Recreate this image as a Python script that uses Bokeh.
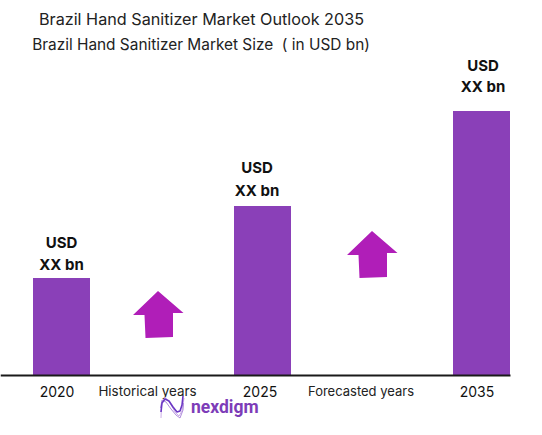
from bokeh.plotting import figure
from bokeh.models import Range1d, FixedTicker
from bokeh.core.properties import value
from bokeh.embed import file_html
from bokeh.resources import INLINE

years = ["2020", "2025", "2035"]
bar_centers = [61.5, 262.5, 481.5]
bar_values = [97, 169, 264]
tick_centers = [57, 260, 477]
usd_labels = ["USD", "USD", "USD"]
value_labels = ["XX bn", "XX bn", "XX bn"]
title_text = "Brazil Hand Sanitizer Market Outlook 2035"
subtitle_text = "Brazil Hand Sanitizer Market Size \u00a0( in USD bn)"

W, H = 542, 435
BASE = 375
INTER = "Inter, sans-serif"


def Y(py):
    return BASE - py


p = figure(width=W, height=H, output_backend="svg", toolbar_location=None,
           x_range=Range1d(0.5, W + 0.5), y_range=Range1d(BASE - H - 0.5, BASE - 0.5),
           min_border=0, outline_line_color=None)
p.grid.visible = False
p.yaxis.visible = False

ax = p.xaxis[0]
ax.fixed_location = 0
ax.bounds = (0.5, 510)
ax.ticker = FixedTicker(ticks=tick_centers)
ax.major_label_overrides = dict(zip(tick_centers, years))
ax.major_tick_line_color = None
ax.minor_tick_line_color = None
ax.axis_line_color = "#1a1a1a"
ax.axis_line_width = 2
ax.major_label_standoff = 5
ax.major_label_text_font = INTER
ax.major_label_text_font_size = "14px"
ax.major_label_text_color = "#111111"

p.vbar(x=bar_centers, top=bar_values, bottom=0, width=57,
       fill_color="#8A40B8", line_color=None)


def arrow(cx, tip):
    xs = [cx, cx + 25.5, cx + 15, cx + 15, cx - 12.5, cx - 13.5, cx - 25]
    ys = [tip, tip + 22, tip + 22, tip + 46, tip + 47, tip + 24, tip + 24]
    return xs, [Y(v) for v in ys]


for cx, tip in [(158, 291), (372, 231)]:
    xs, ys = arrow(cx, tip)
    p.patch(xs, ys, fill_color="#B01EB8", line_color=None)

p.text(x=[61.5, 257, 483], y=[Y(242), Y(167.5), Y(65.5)], text=usd_labels,
       text_align="center", text_baseline="middle", text_font=value(INTER),
       text_font_size="15px", text_font_style="bold", text_color="#111111")
p.text(x=[61.5, 257, 483], y=[Y(264.5), Y(190.5), Y(86)], text=value_labels,
       text_align="center", text_baseline="middle", text_font=value(INTER),
       text_font_size="15px", text_font_style="bold", text_color="#111111")

p.text(x=[147.5], y=[Y(390.5)], text=["Historical years"],
       text_align="center", text_baseline="middle", text_font=value(INTER),
       text_font_size="13.4px", text_color="#222222")
p.text(x=[361], y=[Y(390.5)], text=["Forecasted years"],
       text_align="center", text_baseline="middle", text_font=value(INTER),
       text_font_size="13px", text_color="#222222")

p.text(x=[201.5], y=[Y(19)], text=[title_text], text_align="center", text_baseline="middle",
       text_font=value(INTER), text_font_size="16.2px", text_color="#222222")
p.text(x=[201], y=[Y(44)], text=[subtitle_text], text_align="center", text_baseline="middle",
       text_font=value(INTER), text_font_size="15.4px", text_color="#222222")

# logo
sx = [161, 162, 165, 169, 173, 177, 180, 182, 183]
sy = [412, 403, 399, 401, 407, 412, 411, 405, 396]
sx2 = [161, 161.5, 165, 170, 175, 179, 182, 184]
sy2 = [418, 404, 397, 403, 412, 416, 411, 398]
sx3 = [160.5, 162, 166, 171, 176, 180, 183, 183.5]
sy3 = [408, 400, 402, 409, 415, 418, 410, 403]
p.line(sx2, [Y(v) for v in sy2], line_color="#CDB0E8", line_width=1)
p.line(sx3, [Y(v) for v in sy3], line_color="#B08CDC", line_width=1)
p.line(sx, [Y(v) for v in sy], line_color="#6B36C4", line_width=1.6)
p.text(x=[191], y=[Y(406.5)], text=["nexdigm"], text_align="left", text_baseline="middle",
       text_font=value("Roboto, sans-serif"), text_font_size="17.5px", text_font_style="bold",
       text_color="#7D3CB8")

open("out.html", "w").write(file_html(p, INLINE))
